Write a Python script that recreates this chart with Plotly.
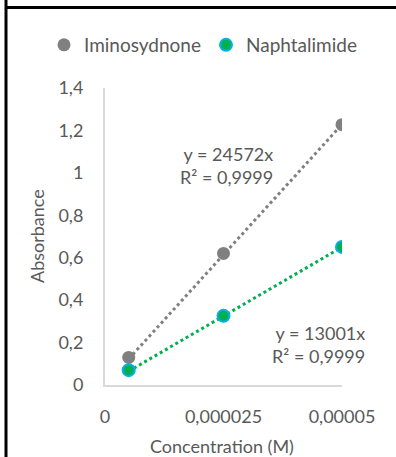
import plotly.graph_objects as go

# Data
conc = [0.000005, 0.000025, 0.00005]
imino = [0.13, 0.62, 1.227]
napht = [0.07, 0.326, 0.651]
slopes = {"Iminosydnone": 24572, "Naphtalimide": 13001}
eq_labels = {"Iminosydnone": "y = 24572x<br>R² = 0,9999",
             "Naphtalimide": "y = 13001x<br>R² = 0,9999"}
y_tickvals = [0, 0.2, 0.4, 0.6, 0.8, 1.0, 1.2, 1.4]
y_ticktext = ["0", "0,2", "0,4", "0,6", "0,8", "1", "1,2", "1,4"]
x_tickvals = [0, 0.000025, 0.00005]
x_ticktext = ["0", "0,000025", "0,00005"]

FONT = "Lato"
FS = 18
TXT = "#595959"
GREY = "#808080"
GREEN = "#00b050"
BLUE = "#00b0f0"

W, H = 396, 457
L, R, T, B = 105, 54, 88, 72
pw, ph = W - L - R, H - T - B

def px(x):
    return (x - L) / pw

def py(y):
    return (H - B - y) / ph

fig = go.Figure()

# trendlines
xs = [min(conc), max(conc)]
fig.add_trace(go.Scatter(x=xs, y=[slopes["Iminosydnone"] * v for v in xs], mode="lines",
                         line=dict(color=GREY, width=3, dash="dot"), showlegend=False, hoverinfo="skip"))
fig.add_trace(go.Scatter(x=xs, y=[slopes["Naphtalimide"] * v for v in xs], mode="lines",
                         line=dict(color=GREEN, width=3, dash="dot"), showlegend=False, hoverinfo="skip"))

fig.add_trace(go.Scatter(x=conc, y=imino, mode="markers", name="Iminosydnone",
                         marker=dict(color=GREY, size=13, line=dict(width=0))))
fig.add_trace(go.Scatter(x=conc, y=napht, mode="markers", name="Naphtalimide",
                         marker=dict(color=GREEN, size=12, line=dict(width=2, color=BLUE))))

fig.add_annotation(text=eq_labels["Iminosydnone"], xref="paper", yref="paper",
                   x=px(226), y=py(165), xanchor="center", yanchor="middle", align="right",
                   showarrow=False, font=dict(family=FONT, size=FS, color=TXT))
fig.add_annotation(text=eq_labels["Naphtalimide"], xref="paper", yref="paper",
                   x=px(318), y=py(344), xanchor="center", yanchor="middle", align="right",
                   showarrow=False, font=dict(family=FONT, size=FS, color=TXT))

# axis titles
fig.add_annotation(text="Absorbance", xref="paper", yref="paper", x=px(37), y=py(236),
                   textangle=-90, xanchor="center", yanchor="middle", showarrow=False,
                   font=dict(family=FONT, size=FS, color=TXT))
fig.add_annotation(text="Concentration (M)", xref="paper", yref="paper", x=px(222), y=py(446),
                   xanchor="center", yanchor="middle", showarrow=False,
                   font=dict(family=FONT, size=FS, color=TXT))

# black frame lines
fig.add_shape(type="line", xref="paper", yref="paper", x0=px(6), x1=px(6), y0=py(0), y1=py(457),
              line=dict(color="black", width=3))
fig.add_shape(type="line", xref="paper", yref="paper", x0=px(5), x1=px(396), y0=py(7.5), y1=py(7.5),
              line=dict(color="black", width=3))

fig.update_layout(
    width=W, height=H,
    margin=dict(l=L, r=R, t=T, b=B),
    paper_bgcolor="white", plot_bgcolor="white",
    font=dict(family=FONT, size=FS, color=TXT),
    legend=dict(orientation="h", x=px(44), y=py(45), xanchor="left", yanchor="middle",
                font=dict(family=FONT, size=19, color=TXT), itemwidth=30,
                tracegroupgap=0),
    showlegend=True,
)
fig.update_xaxes(range=[0, 0.00005], tickvals=x_tickvals, ticktext=x_ticktext,
                 showgrid=False, zeroline=False, showline=True, linecolor="#d9d9d9", linewidth=2,
                 ticks="", ticklabelstandoff=14, tickfont=dict(family=FONT, size=FS, color=TXT))
fig.update_yaxes(range=[0, 1.4], tickvals=y_tickvals, ticktext=y_ticktext,
                 showgrid=False, zeroline=False, showline=True, linecolor="#d9d9d9", linewidth=2,
                 ticks="", ticklabelstandoff=16, tickfont=dict(family=FONT, size=FS, color=TXT))

fig.write_html("out.html", config={"displayModeBar": False},
               post_script="document.documentElement.style.overflow='hidden';"
                           "document.body.style.margin='0px';document.body.style.overflow='hidden';")
